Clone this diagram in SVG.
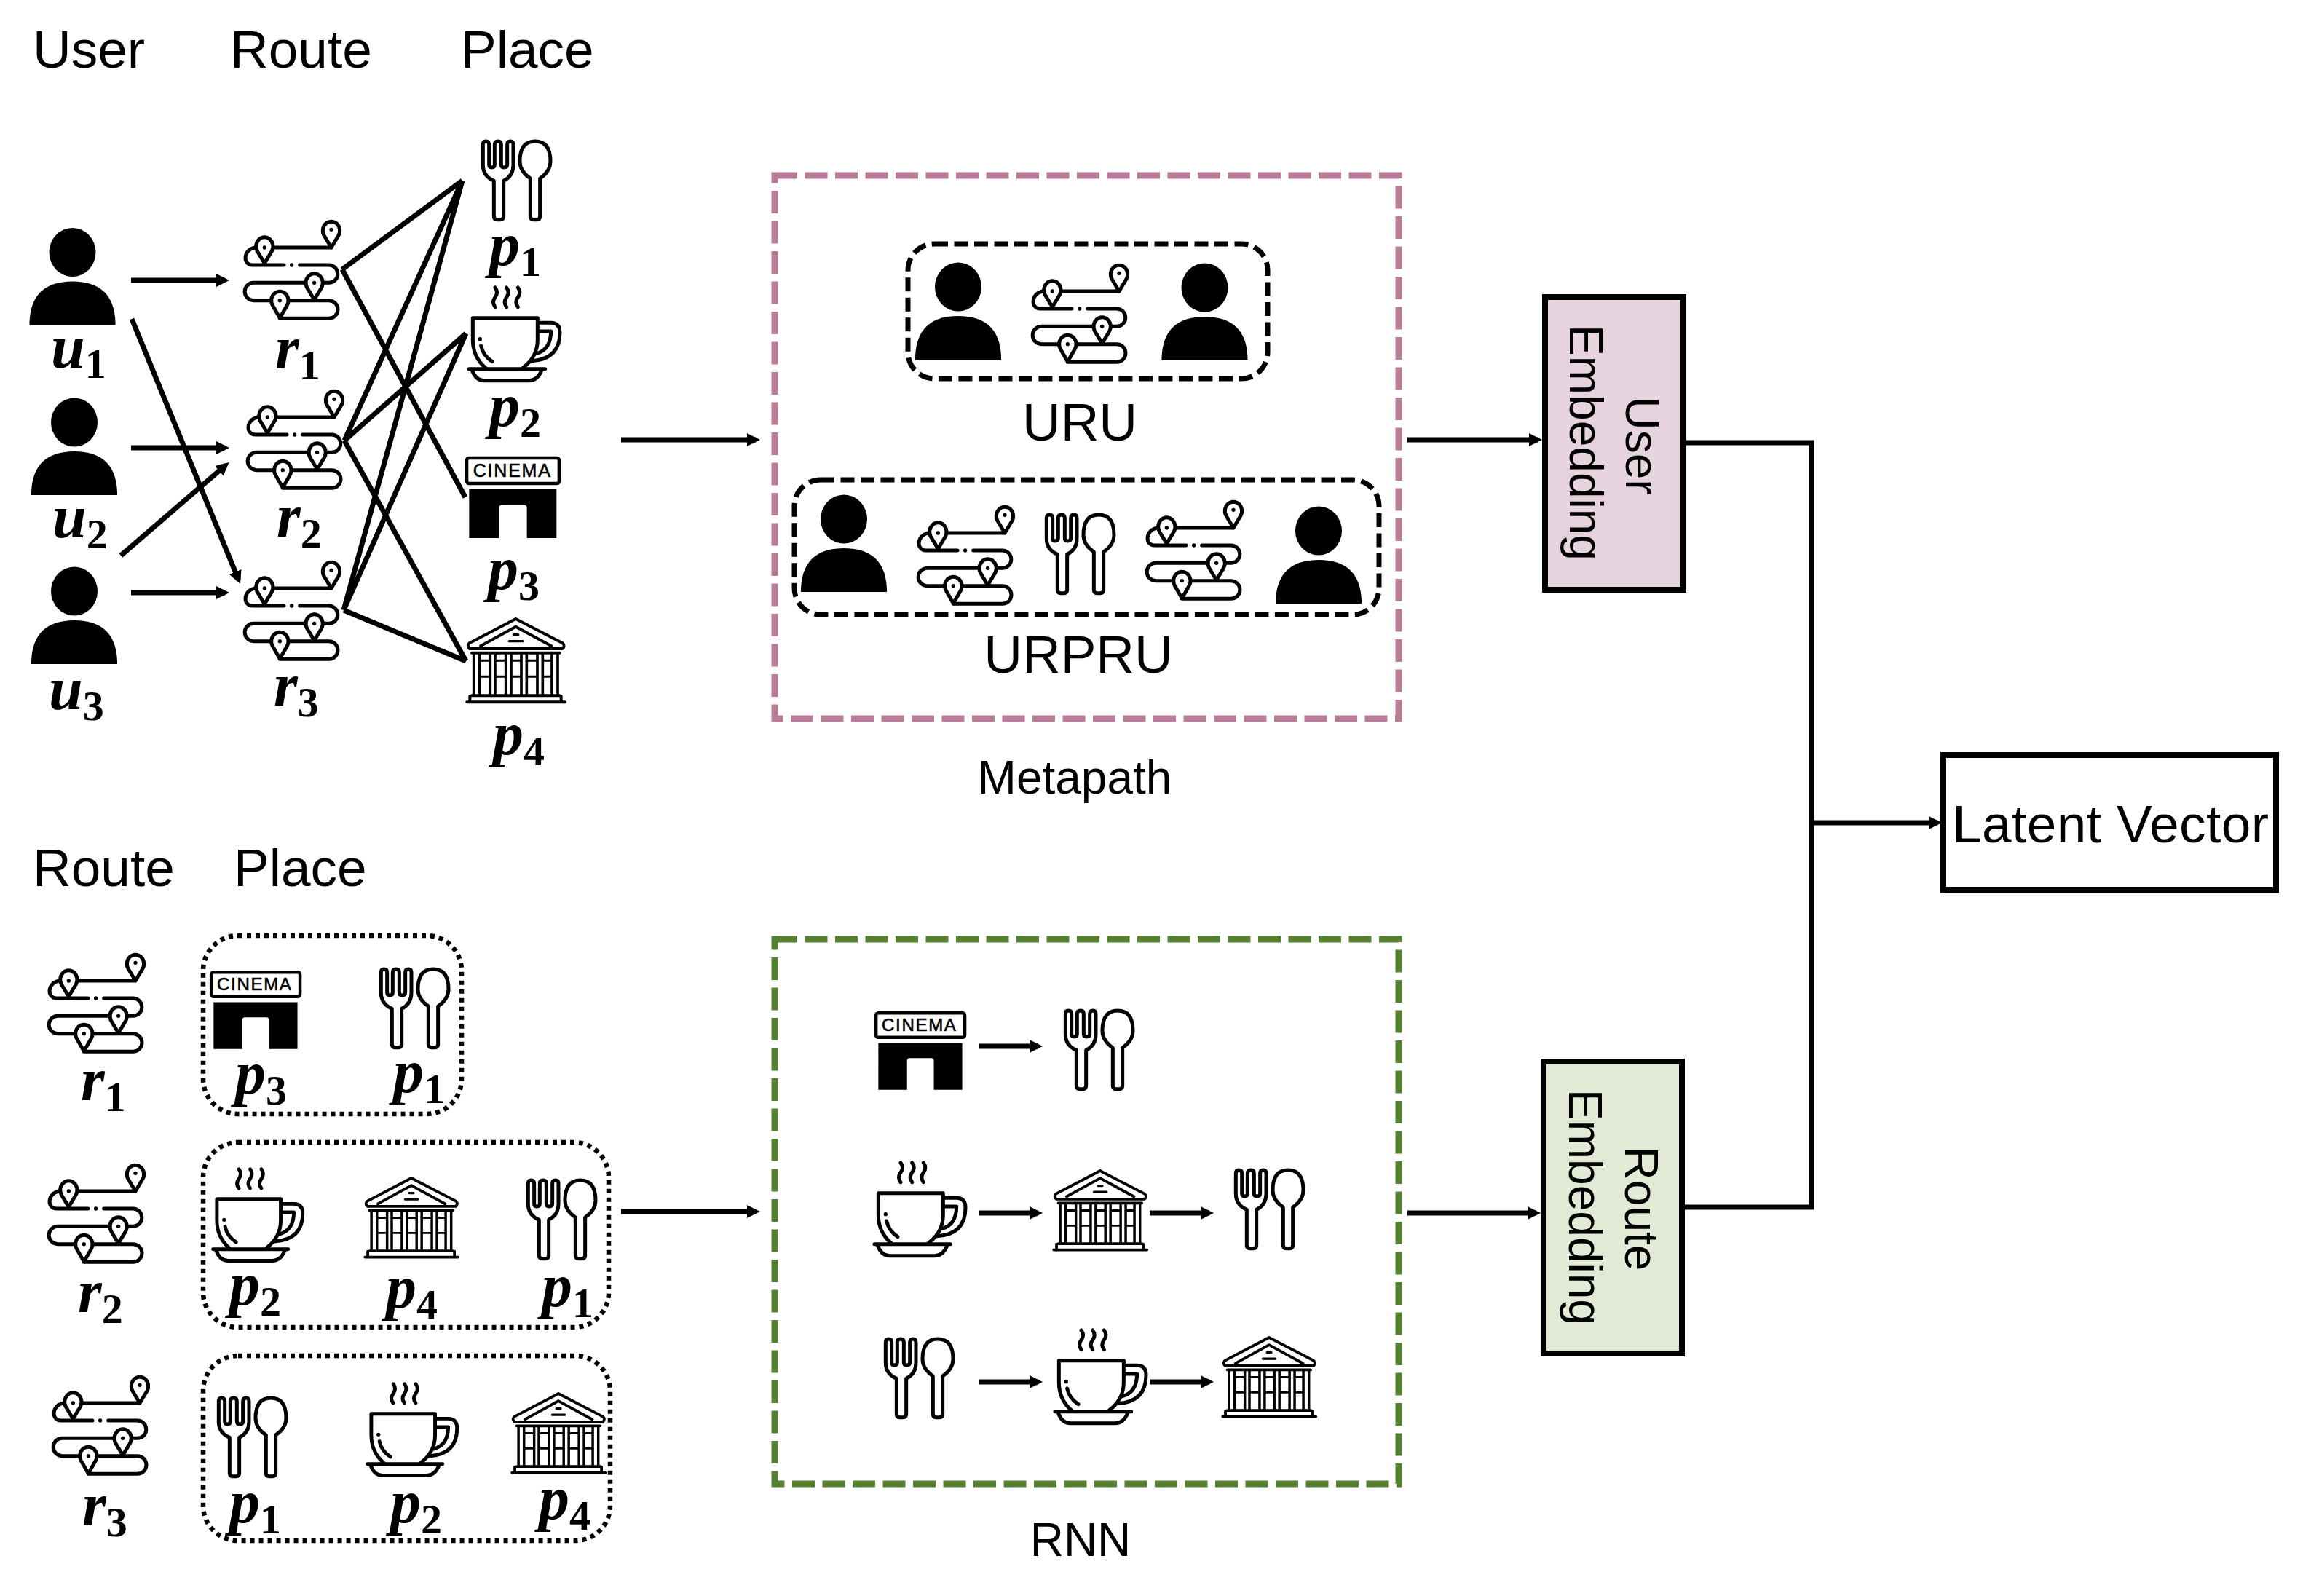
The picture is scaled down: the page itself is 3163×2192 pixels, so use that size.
<svg xmlns="http://www.w3.org/2000/svg" width="3163" height="2192" viewBox="0 0 3163 2192">
<style>
text{font-family:"Liberation Sans",Arial,sans-serif;fill:#000}
.h{font-size:73px}
.m{font-size:64px}
.r{font-size:64px;text-anchor:middle}
.lb{font-family:"Liberation Serif","Times New Roman",serif;font-size:84px;font-weight:bold;font-style:italic}
.lb tspan{font-size:58px;font-style:normal;font-family:"Liberation Serif","Times New Roman",serif}
.cin{font-size:25px;letter-spacing:1.8px;stroke:#000;stroke-width:.6}
.cin2{font-size:24px;letter-spacing:1.7px;stroke:#000;stroke-width:.6}
.ic{fill:none;stroke:#000;stroke-width:15;stroke-linecap:round;stroke-linejoin:round}
.ln{fill:none;stroke:#000;stroke-width:7}
.ah{marker-end:url(#arr)}
.pink{fill:none;stroke:#B87B98;stroke-width:9;stroke-dasharray:31 10.5}
.green{fill:none;stroke:#54812F;stroke-width:9;stroke-dasharray:31 10.5}
.dash{fill:none;stroke:#000;stroke-width:7;stroke-dasharray:19 8.5}
.dot{fill:none;stroke:#000;stroke-width:6.5;stroke-dasharray:6 6}
.bx{stroke:#000;stroke-width:8}
</style>
<defs>
<marker id="arr" markerUnits="userSpaceOnUse" markerWidth="20" markerHeight="20" refX="12" refY="10" orient="auto" viewBox="0 0 20 20"><path d="M0,1 L18,10 L0,19Z" fill="#000"/></marker>
<g id="user"><ellipse cx="0" cy="0" rx="32" ry="33.5" fill="#000"/><path d="M-59,96 Q-57,40 0,40 Q57,40 59,96 L59,100 L-59,100Z" fill="#000"/></g>
<g id="route" transform="scale(.3333)"><g class="ic">
<path d="M465,150 L435,100 A35,38 0 1 1 495,100 Z"/>
<path d="M190,215 L160,165 A35,38 0 1 1 220,165 Z"/>
<path d="M230,150 L465,150"/>
<path d="M150,150 C100,160 100,222 140,222 L270,222"/>
<path d="M335,222 L455,222 A36,36 0 0 1 455,295 L432,295"/>
<path d="M360,295 L145,295 A36,36 0 0 0 145,368 L218,368"/>
<path d="M395,365 L365,315 A35,38 0 1 1 425,315 Z"/>
<path d="M253,440 L223,388 A35,38 0 1 1 283,388 Z"/>
<path d="M290,368 L455,368 A36,36 0 0 1 455,442 L253,442"/>
</g><circle cx="465" cy="76" r="8"/><circle cx="190" cy="150" r="8"/><circle cx="302" cy="222" r="8"/><circle cx="395" cy="295" r="8"/><circle cx="253" cy="368" r="8"/></g>
<g id="fork" transform="scale(.3333)"><g class="ic">
<path d="M175,235 L175,382 Q175,395 188,395 L202,395 Q215,395 215,382 L215,235 Q255,215 255,170 L255,85 Q255,72 243,72 Q230,72 230,85 L230,168 Q230,180 217,180 Q205,180 205,168 L205,85 Q205,72 192,72 Q178,72 178,85 L178,168 Q178,180 166,180 Q155,180 155,168 L155,85 Q155,72 142,72 Q130,72 130,85 L130,170 Q130,215 175,235 Z"/>
<path d="M325,225 L325,382 Q325,395 338,395 L352,395 Q365,395 365,382 L365,225 Q408,195 408,155 Q408,72 345,72 Q282,72 282,155 Q282,195 325,225 Z"/>
</g></g>
<g id="cup" transform="scale(.3333)"><g class="ic">
<path d="M140,375 Q88,330 88,260 L88,170 L355,170 L355,260 Q355,330 295,375"/>
<path d="M360,190 L410,190 Q447,190 447,230 Q447,340 330,347"/>
<path d="M360,225 L410,225 Q410,300 350,317"/>
<path d="M122,285 Q130,325 168,350"/>
<path d="M72,380 L386,380"/>
<path d="M85,385 Q100,428 135,428 L320,428 Q355,428 372,385"/>
<path d="M180,45 Q195,65 180,85 Q165,105 180,125"/>
<path d="M227,45 Q242,65 227,85 Q212,105 227,125"/>
<path d="M274,45 Q289,65 274,85 Q259,105 274,125"/>
</g><circle cx="118" cy="257" r="8"/></g>
<g id="cinema" transform="scale(.3333)"><rect x="63" y="57" width="381" height="105" rx="10" fill="none" stroke="#000" stroke-width="14"/><path d="M73,186 H433 V387 H311 V262 Q311,251 300,251 H207 Q196,251 196,262 V387 H73Z" fill="#000"/></g>
<g id="museum" transform="scale(.3333)"><g class="ic">
<path d="M265,60 L458,160 Q470,170 458,183 L75,183 Q62,170 74,160 Z" stroke-width="12"/>
<path d="M120,172 L265,92 L412,172" stroke-width="12"/>
<path d="M256,125 L275,125 M238,152 L293,152" stroke-width="10"/>
<path d="M84,200 L446,200" stroke-width="12"/>
<path d="M92,205 V372 M116,205 V372 M160,205 V372 M180,205 V372 M224,205 V372 M246,205 V372 M288,205 V372 M310,205 V372 M354,205 V372 M376,205 V372 M414,205 V372 M438,205 V372" stroke-width="11" stroke-linecap="butt"/>
<path d="M116,232 H160 M180,232 H224 M246,232 H288 M310,232 H354 M376,232 H414 M116,298 H160 M180,298 H224 M246,298 H288 M310,298 H354 M376,298 H414" stroke-width="9" stroke-linecap="butt"/>
<path d="M84,376 L446,376 M76,378 L76,402 M452,378 L452,402" stroke-width="12"/>
<path d="M64,403 L468,403" stroke-width="12"/>
</g></g>
</defs>
<rect width="3163" height="2192" fill="#fff"/>

<g id="headers">
<text class="h" x="45" y="93">User</text><text class="h" x="316" y="93">Route</text><text class="h" x="633" y="93">Place</text>
<text class="h" x="45" y="1217">Route</text><text class="h" x="321" y="1217">Place</text>
</g>

<g id="connectors">
<line class="ln ah" x1="180" y1="385" x2="309" y2="385"/>
<line class="ln ah" x1="181" y1="438" x2="327.7" y2="796.5"/>
<line class="ln ah" x1="180" y1="615" x2="309" y2="615"/>
<line class="ln ah" x1="166" y1="763" x2="310" y2="638.9"/>
<line class="ln ah" x1="180" y1="814" x2="309" y2="814"/>
<path class="ln" stroke-linejoin="miter" d="M635,248 L470,370 M470,370 L639,683 M473,605 L635,248 M473,605 L640,458 M473,605 L640,908 M472,838 L635,248 M472,838 L640,458 M472,838 L640,908"/>
<line class="ln ah" x1="853" y1="604" x2="1038" y2="604" stroke-width="8"/>
<line class="ln ah" x1="853" y1="1664" x2="1038" y2="1664" stroke-width="8"/>
<line class="ln ah" x1="1933" y1="604" x2="2112" y2="604" stroke-width="8"/>
<line class="ln ah" x1="1933" y1="1666" x2="2110" y2="1666" stroke-width="8"/>
<path class="ln" stroke-width="8" d="M2312,608 H2488 V1658 H2312"/>
<line class="ln ah" x1="2488" y1="1130" x2="2661" y2="1130" stroke-width="8"/>
<line class="ln ah" x1="1344" y1="1437" x2="1426" y2="1437"/>
<line class="ln ah" x1="1344" y1="1666" x2="1426" y2="1666"/>
<line class="ln ah" x1="1579" y1="1666" x2="1661" y2="1666"/>
<line class="ln ah" x1="1344" y1="1898" x2="1426" y2="1898"/>
<line class="ln ah" x1="1579" y1="1898" x2="1661" y2="1898"/>
</g>

<g id="u1"><use href="#user" x="99.5" y="346.5"/><text class="lb" x="70" y="505">u<tspan dy="14">1</tspan></text></g>
<g id="u2"><use href="#user" x="102" y="580"/><text class="lb" x="72" y="738">u<tspan dy="15">2</tspan></text></g>
<g id="u3"><use href="#user" x="102" y="812"/><text class="lb" x="67" y="974">u<tspan dy="15">3</tspan></text></g>
<g id="r1"><g transform="translate(300,290)"><use href="#route"/></g><text class="lb" x="378" y="506">r<tspan dy="15">1</tspan></text></g>
<g id="r2"><g transform="translate(304,523)"><use href="#route"/></g><text class="lb" x="380" y="737">r<tspan dy="15">2</tspan></text></g>
<g id="r3"><g transform="translate(300,758)"><use href="#route"/></g><text class="lb" x="376" y="969">r<tspan dy="15">3</tspan></text></g>
<g id="p1"><g transform="translate(620,170)"><use href="#fork"/></g><text class="lb" x="672" y="364">p<tspan dy="15">1</tspan></text></g>
<g id="p2"><g transform="translate(620,380)"><use href="#cup"/></g><text class="lb" x="672" y="585">p<tspan dy="15">2</tspan></text></g>
<g id="p3"><g transform="translate(620,610)"><use href="#cinema"/></g><text class="cin" x="649.7" y="654.5">CINEMA</text><text class="lb" x="670" y="809">p<tspan dy="15">3</tspan></text></g>
<g id="p4"><g transform="translate(620,830)"><use href="#museum"/></g><text class="lb" x="677" y="1036">p<tspan dy="15">4</tspan></text></g>

<g id="metapath">
<rect class="pink" x="1064" y="241" width="857" height="746"/>
<rect class="dash" x="1247" y="335" width="494" height="185" rx="36"/>
<use href="#user" x="1316" y="394"/>
<g transform="translate(1382,350)"><use href="#route"/></g>
<use href="#user" x="1654.5" y="395"/>
<text class="h" x="1483" y="605" text-anchor="middle">URU</text>
<rect class="dash" x="1091" y="659" width="803" height="185" rx="36"/>
<use href="#user" x="1159" y="713"/>
<g transform="translate(1225,682)"><use href="#route"/></g>
<g transform="translate(1394,683)"><use href="#fork"/></g>
<g transform="translate(1539,675)"><use href="#route"/></g>
<use href="#user" x="1811" y="729"/>
<text class="h" x="1481" y="924" text-anchor="middle">URPRU</text>
<text class="m" x="1476" y="1090" text-anchor="middle">Metapath</text>
</g>

<g id="rnn">
<rect class="green" x="1064" y="1290" width="857" height="748"/>
<g transform="translate(1183,1373) scale(.96)"><use href="#cinema"/></g><text class="cin2" x="1211" y="1415.5">CINEMA</text>
<g transform="translate(1420,1364)"><use href="#fork"/></g>
<g transform="translate(1177,1582)"><use href="#cup"/></g>
<g transform="translate(1427,1589) scale(.95)"><use href="#museum"/></g>
<g transform="translate(1654,1583)"><use href="#fork"/></g>
<g transform="translate(1173,1815)"><use href="#fork"/></g>
<g transform="translate(1425,1812)"><use href="#cup"/></g>
<g transform="translate(1659,1818) scale(.95)"><use href="#museum"/></g>
<text class="m" x="1484" y="2137" text-anchor="middle">RNN</text>
</g>

<g id="route-place-1">
<g transform="translate(31,1297)"><use href="#route"/></g><text class="lb" x="111" y="1511">r<tspan dy="15">1</tspan></text>
<rect class="dot" x="279" y="1285" width="355" height="245" rx="48"/>
<g transform="translate(270,1317) scale(.96)"><use href="#cinema"/></g><text class="cin2" x="298" y="1359.5">CINEMA</text>
<text class="lb" x="323" y="1502">p<tspan dy="15">3</tspan></text>
<g transform="translate(480,1307)"><use href="#fork"/></g>
<text class="lb" x="540" y="1500">p<tspan dy="15">1</tspan></text>
</g>
<g id="route-place-2">
<g transform="translate(31,1586)"><use href="#route"/></g><text class="lb" x="107" y="1802">r<tspan dy="15">2</tspan></text>
<rect class="dot" x="279" y="1569" width="557" height="254" rx="48"/>
<g transform="translate(269,1591) scale(.985)"><use href="#cup"/></g>
<text class="lb" x="315" y="1792">p<tspan dy="15">2</tspan></text>
<g transform="translate(481,1599) scale(.95)"><use href="#museum"/></g>
<text class="lb" x="530" y="1796">p<tspan dy="15">4</tspan></text>
<g transform="translate(682,1597)"><use href="#fork"/></g>
<text class="lb" x="744" y="1794">p<tspan dy="15">1</tspan></text>
</g>
<g id="route-place-3">
<g transform="translate(37,1877)"><use href="#route"/></g><text class="lb" x="113" y="2095">r<tspan dy="15">3</tspan></text>
<rect class="dot" x="279" y="1862" width="559" height="254" rx="48"/>
<g transform="translate(257,1896)"><use href="#fork"/></g>
<text class="lb" x="315" y="2091">p<tspan dy="15">1</tspan></text>
<g transform="translate(481,1886) scale(.985)"><use href="#cup"/></g>
<text class="lb" x="536" y="2091">p<tspan dy="15">2</tspan></text>
<g transform="translate(683,1895) scale(.95)"><use href="#museum"/></g>
<text class="lb" x="740" y="2086">p<tspan dy="15">4</tspan></text>
</g>

<g id="user-embedding">
<rect class="bx" x="2122" y="408" width="190" height="402" fill="#E6D3DD"/>
<text class="r" transform="translate(2156,608) rotate(90)">Embedding</text>
<text class="r" transform="translate(2233,612) rotate(90)">User</text>
</g>
<g id="route-embedding">
<rect class="bx" x="2120" y="1458" width="190" height="401" fill="#E2EAD5"/>
<text class="r" transform="translate(2155,1658) rotate(90)">Embedding</text>
<text class="r" transform="translate(2232,1660) rotate(90)">Route</text>
</g>
<g id="latent-vector">
<rect class="bx" x="2669" y="1037" width="457" height="185" fill="#fff"/>
<text class="h" x="2681" y="1157" textLength="435">Latent Vector</text>
</g>
</svg>
